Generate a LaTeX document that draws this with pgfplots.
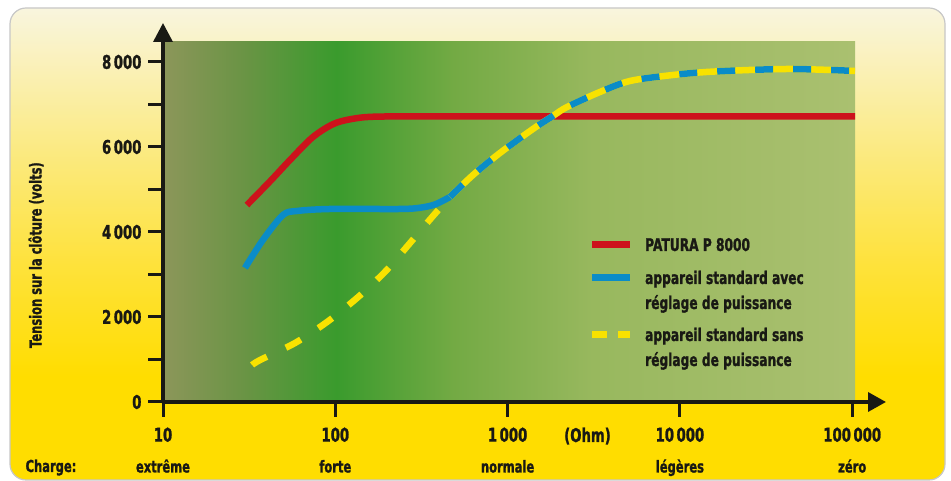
\documentclass[border=0pt]{standalone}
\usepackage{pgfplots}
\pgfplotsset{compat=1.18}
\usepackage{fontspec}
\setmainfont{DejaVu Sans}[FakeStretch=0.7, BoldFeatures={FakeBold=1.2}]
\usetikzlibrary{arrows.meta}

\definecolor{cardtop}{RGB}{249,245,222}
\definecolor{cardhi}{RGB}{251,234,130}
\definecolor{cardmid}{RGB}{254,226,60}
\definecolor{cardbot}{RGB}{255,221,0}
\definecolor{g0}{RGB}{140,150,90}
\definecolor{g1}{RGB}{105,148,68}
\definecolor{g2}{RGB}{58,155,45}
\definecolor{g3}{RGB}{115,170,68}
\definecolor{g4}{RGB}{152,184,94}
\definecolor{g5}{RGB}{170,192,112}
\definecolor{patred}{RGB}{205,18,28}
\definecolor{stdblue}{RGB}{10,140,200}
\definecolor{stdyellow}{RGB}{248,226,0}
\definecolor{ink}{RGB}{25,25,20}

\pgfdeclareverticalshading{cardbg}{100bp}{color(0bp)=(cardbot); color(36bp)=(cardbot); color(48bp)=(cardmid); color(60bp)=(cardhi); color(75bp)=(cardtop); color(100bp)=(cardtop)}
\pgfdeclarehorizontalshading{plotbg}{100bp}{color(0bp)=(g0); color(25bp)=(g0); color(31bp)=(g1); color(37.5bp)=(g2); color(46bp)=(g3); color(56bp)=(g4); color(75bp)=(g5); color(100bp)=(g5)}

\newcommand{\num}{\fontsize{19}{31}\selectfont\bfseries}
\newcommand{\wrd}{\fontsize{16.5}{31}\selectfont\bfseries}
\newcommand{\leg}{\fontsize{17.5}{25}\selectfont\bfseries}
\newcommand{\ts}{\kern2.5bp}

\begin{document}
\begin{tikzpicture}[x=1bp,y=1bp]
\path[use as bounding box] (0,0) rectangle (951,481);
\fill[white] (0,0) rectangle (951,481);
\shade[shading=cardbg, draw=black!22, line width=1.2bp, rounded corners=16bp] (10,1) rectangle (945,473);

\begin{semilogxaxis}[
  at={(163bp,79bp)}, anchor=south west,
  scale only axis, width=692bp, height=360bp,
  xmin=10, xmax=103800, ymin=0, ymax=8470,
  axis background/.style={shading=plotbg},
  axis line style={draw=none},
  xtick pos=left, ytick pos=left,
  xminorticks=false,
  tick align=outside,
  major tick length=15bp, minor tick length=15bp,
  every tick/.style={ink, line width=3bp},
  xtick={10,100,1000,10000,100000},
  xticklabels={{10\\{\wrd extrême}},{100\\{\wrd forte}},{1\ts000\\{\wrd normale}},{10\ts000\\{\wrd légères}},{100\ts000\\{\wrd zéro}}},
  xticklabel style={align=center, font=\num, text=ink, yshift=-4bp},
  ytick={0,2000,4000,6000,8000},
  yticklabels={0,2\ts000,4\ts000,6\ts000,8\ts000},
  minor ytick={1000,3000,5000,7000},
  yticklabel style={font=\num, text=ink},
  ylabel={Tension sur la clôture (volts)},
  ylabel style={at={(axis description cs:-0.1835,0.408)}, anchor=center, font=\fontsize{16.5}{18}\selectfont\bfseries, text=ink},
  line width=6.5bp,
]
% PATURA P 8000
\addplot[patred, smooth, tension=0.5] coordinates {
  (30.7,4635) (42,5200) (54.6,5694) (74.2,6235) (100,6560) (140,6690) (200,6718)
  (400,6720) (1000,6720) (10000,6720) (103800,6720)
};
% appareil standard sans reglage (partie propre)
\addplot[stdyellow, smooth, tension=0.5, dash pattern=on 17bp off 21bp] coordinates {
  (32.9,870) (36.6,988) (58.4,1388) (89.5,1882) (133.7,2447) (194,3059)
  (271.5,3741) (369,4376) (463,4824)
};
% appareil standard avec reglage (partie propre)
\addplot[stdblue, smooth, tension=0.5] coordinates {
  (29.9,3153) (38,3812) (49.7,4400) (60,4494) (93,4541) (237,4541)
  (310,4570) (380,4650) (463,4824)
};
% partie commune
\addplot[stdyellow, smooth, tension=0.5] coordinates {
  (463,4824) (630,5341) (903,5859) (1404,6424) (1834,6730) (2213,6941)
  (3436,7294) (5130,7553) (9120,7694) (14360,7765) (25530,7812)
  (43550,7835) (74300,7812) (103800,7788)
};
\addplot[stdblue, smooth, tension=0.5, dash pattern=on 18bp off 20bp] coordinates {
  (463,4824) (630,5341) (903,5859) (1404,6424) (1834,6730) (2213,6941)
  (3436,7294) (5130,7553) (9120,7694) (14360,7765) (25530,7812)
  (43550,7835) (74300,7812) (103800,7788)
};
\end{semilogxaxis}

% axes with arrows
\draw[ink, line width=3.5bp, -{Triangle[length=18bp,width=19bp]}] (161.5,79) -- (886,79);
\draw[ink, line width=3.5bp, -{Triangle[length=19bp,width=19bp]}] (163,77.5) -- (163,458);

% extra labels
\node[font=\wrd, text=ink, anchor=base] at (51,9) {Charge:};
\node[font=\num, text=ink, anchor=base] at (587.5,39) {(Ohm)};

% legend
\draw[patred, line width=7bp] (592,236) -- (630,236);
\node[font=\leg, text=ink, anchor=base west, inner sep=0pt] at (645,230) {PATURA P 8000};
\draw[stdblue, line width=7bp] (592,203) -- (630,203);
\node[font=\leg, text=ink, anchor=base west, inner sep=0pt] at (645,197) {appareil standard avec};
\node[font=\leg, text=ink, anchor=base west, inner sep=0pt] at (645,172) {réglage de puissance};
\draw[stdyellow, line width=7bp, dash pattern=on 15bp off 11bp] (592,146) -- (630,146);
\node[font=\leg, text=ink, anchor=base west, inner sep=0pt] at (645,140) {appareil standard sans};
\node[font=\leg, text=ink, anchor=base west, inner sep=0pt] at (645,115) {réglage de puissance};
\end{tikzpicture}
\end{document}
